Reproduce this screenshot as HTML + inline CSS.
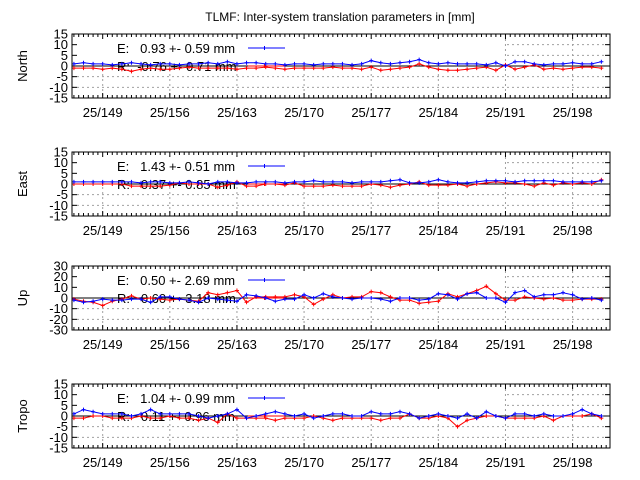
<!DOCTYPE html>
<html><head><meta charset="utf-8"><style>
body{margin:0;background:#fff}
svg{display:block;font-family:"Liberation Sans",sans-serif}
svg text{white-space:pre}
</style></head><body>
<svg id="chart" width="640" height="480" viewBox="0 0 640 480" xmlns="http://www.w3.org/2000/svg">
<text x="340" y="21" font-size="12" text-anchor="middle">TLMF: Inter-system translation parameters in [mm]</text>
</svg>
<script>
const days = [146,147,148,149,150,151,152,153,154,155,156,157,158,159,160,161,162,163,164,165,166,167,168,169,170,171,172,173,174,175,176,177,178,179,180,181,182,183,184,185,186,187,188,189,190,191,192,193,194,195,196,197,198,199,200,201];
const xTickDays = [149,156,163,170,177,184,191,198];
const xTickLabels = ["25/149","25/156","25/163","25/170","25/177","25/184","25/191","25/198"];
const panelNames = ["North","East","Up","Tropo"];
const yTicksSmall = [15,10,5,0,-5,-10,-15];
const yTicksUp = [30,20,10,0,-10,-20,-30];
const legendE = ["E:   0.93 +- 0.59 mm","E:   1.43 +- 0.51 mm","E:   0.50 +- 2.69 mm","E:   1.04 +- 0.99 mm"];
const legendR = ["R:  -0.76 +- 0.71 mm","R:   0.37 +- 0.85 mm","R:   0.60 +- 3.18 mm","R:   0.11 +- 0.96 mm"];
const northE = [1,1.5,1,1,0.5,1,1.5,1,0.5,1,1,0.5,1,1,1.5,1,2,1,1.5,1.5,1,1,0.5,1,1,0.5,1,1,1,0.5,1,2.5,1.5,1,1.5,2,3,1.5,1,1.5,1,1,1,0.5,1.5,0,2,2,1,0.5,1,1,1.5,1,1,2];
const northR = [-1,-1,-1,-1.5,-1,-1.5,-2.5,-1.5,-1,-1.5,-1.5,-1,-0.5,-1,-1,-1,-1,-1.5,-1,-1,-0.5,-1,-1.5,-1,-1,-1,-1,-0.5,-1,-1,-1.5,-0.5,-2,-1.5,-1,-0.5,1,-0.5,-1.5,-2,-2,-1.5,-1,-0.5,-2,0.5,-1.5,-0.5,0.5,-1.5,-1,-1.5,-1,-0.5,-0.5,-1];
const eastE = [1,1,1,1,1,1,1,0.5,1,1,0.5,0.5,1,0.5,0,1,1,0.5,0.5,1,1,1,0.5,1,1,1.5,1,1,1,0.5,1,1,1,1.5,2,0.5,0.5,1,2,1,0.5,0.5,1,1.5,1.5,1.5,1,1.5,1.5,1.5,1.5,1,1,1,1,1.5];
const eastR = [0,0,0,0,0,0,-1,-1,-1,-1,-0.5,0.5,0,0,0,-1.5,-0.5,1,-1,-1,0,0,-0.5,0.5,-1,-1,-1,-0.5,-1,-1,-1,0,-0.5,-1.5,-0.5,0,1,-0.5,-0.5,-0.5,0,-1,0,0.5,1,0.5,0.5,0,-1,0.5,-0.5,0.5,0,0.5,0,2];
const upE = [-2,-4,-3,-1,-2,-2,-1,-1,-4,1,1,-1,-2,-4,0,-1,-2,-3,3,2,0,-3,-1,-1,3,0,4,1,0,-1,0,0,-1,-3,0,0,-2,-1,4,3,-1,4,5,0,0,-4,5,7,1,3,3,5,3,-1,0,-2];
const upR = [-1,-3,-4,-7,-3,-1,2,-1,0,-1,-2,-1,-2,-3,5,3,5,7,-4,1,1,1,1,3,1,-6,-1,3,0,1,1,6,5,1,-2,-2,-5,-4,-3,4,1,4,7,11,4,-2,-2,1,0,-1,0,-2,-2,-1,-1,-1];
const tropoE = [1,3,2,1,1,1,0,1,3,1,1,1,1,0,-1,0,1,3,-1,0,1,2,1,0,1,-1,0,1,1,0,0,2,1,1,2,1,-1,0,1,0,-1,1,-1,2,0,-1,1,1,0,1,0,0,1,3,1,0];
const tropoR = [-1,-1,0,0,-1,-1,-1,0,-1,-1,0,-1,-1,-2,-1,-3,1,-1,-1,-1,-1,-2,-1,-1,-1,0,-1,-2,-1,-1,-1,-1,-2,-1,-1,1,-1,-1,0,-1,-5,-2,-1,0,0,-1,-1,-1,-1,0,-2,0,0,0,1,-1];
const panelE = [northE,eastE,upE,tropoE];
const panelR = [northR,eastR,upR,tropoR];
const panelTops = [34,152,266,384];
const PH = 64, XL = 72, XR = 610, X0 = 145.8, X1 = 201.9;
const NS = "http://www.w3.org/2000/svg";
const svg = document.getElementById('chart');
function mk(tag, attrs, parent){const e=document.createElementNS(NS,tag);for(const k in attrs)e.setAttribute(k,attrs[k]);(parent||svg).appendChild(e);return e;}
function xs(d){return XL+(d-X0)/(X1-X0)*(XR-XL);}
function series(g, vals, ys, color, name){
  const pts = vals.slice(0,days.length).map((v,i)=>xs(days[i]).toFixed(1)+','+ys(v).toFixed(1));
  const pl = mk('polyline',{points:pts.join(' '),fill:'none',stroke:color,'stroke-width':1},g);
  
  
  vals.slice(0,days.length).forEach((v,i)=>{
    const x=xs(days[i]), y=ys(v);
    const p = mk('path',{d:`M${x-2},${y}h4M${x},${y-2}v4`,stroke:color,'stroke-width':1},g);
    
    
  });
}
panelNames.forEach((nm,pi)=>{
  const top = panelTops[pi], bot = top+PH;
  const ticks = pi===2 ? yTicksUp : yTicksSmall;
  const ymax = ticks[0], ymin = ticks[ticks.length-1];
  const ys = v => top + (ymax - v)/(ymax-ymin)*PH;
  const g = mk('g',{});
  
  
  ticks.forEach(t=>{ if(t!==0 && t!==ymax && t!==ymin){ mk('line',{x1:XL,x2:XR,y1:ys(t),y2:ys(t),stroke:'#a0a0a0','stroke-dasharray':'2,3','stroke-width':1},g);} });
  xTickDays.forEach(d=>{ mk('line',{x1:xs(d),x2:xs(d),y1:top,y2:bot,stroke:'#a0a0a0','stroke-dasharray':'2,3','stroke-width':1},g); });
  mk('rect',{x:XL+0.5,y:top+0.5,width:xs(191)-XL-1.5,height:ys(0)-top-0.5,fill:'#fff'},g);
  mk('line',{x1:XL,x2:XR,y1:ys(0),y2:ys(0),stroke:'#000','stroke-width':1},g);
  ticks.forEach(t=>{
    const tl = mk('text',{x:XL-4,y:ys(t)+4.5,'font-size':13,'text-anchor':'end'},g);
    tl.textContent = t;
    
    
    mk('line',{x1:XL,x2:XL+5,y1:ys(t),y2:ys(t),stroke:'#000'},g);
    mk('line',{x1:XR-5,x2:XR,y1:ys(t),y2:ys(t),stroke:'#000'},g);
  });
  for(let d=146; d<=201.5; d+=0.5){
    const major = xTickDays.includes(d);
    const L = major?5:3;
    mk('line',{x1:xs(d),x2:xs(d),y1:top,y2:top+L,stroke:'#000'},g);
    mk('line',{x1:xs(d),x2:xs(d),y1:bot-L,y2:bot,stroke:'#000'},g);
  }
  xTickDays.forEach((d,i)=>{
    const tl = mk('text',{x:xs(d),y:bot+19,'font-size':13,'text-anchor':'middle'},g);
    tl.textContent = xTickLabels[i];
    
    
  });
  const yt = mk('text',{x:0,y:0,'font-size':13,'text-anchor':'middle',transform:`translate(27,${top+PH/2}) rotate(-90)`},g);
  yt.textContent = nm;
  
  
  const le = mk('text',{x:117,y:top+19,'font-size':13},g);
  le.textContent = legendE[pi];
  
  
  const lr = mk('text',{x:117,y:top+37,'font-size':13},g);
  lr.textContent = legendR[pi];
  
  
  mk('line',{x1:248,x2:285,y1:top+14,y2:top+14,stroke:'#0000ff'},g);
  mk('path',{d:`M264.5,${top+12}v4`,stroke:'#0000ff'},g);
  mk('line',{x1:248,x2:285,y1:top+32,y2:top+32,stroke:'#ff0000'},g);
  mk('path',{d:`M264.5,${top+30}v4`,stroke:'#ff0000'},g);
  series(g, panelR[pi], ys, '#ff0000', nm.toLowerCase()+'-r');
  series(g, panelE[pi], ys, '#0000ff', nm.toLowerCase()+'-e');
  mk('rect',{x:XL,y:top,width:XR-XL,height:PH,fill:'none',stroke:'#000','stroke-width':1},g);
});
</script>
</body></html>
